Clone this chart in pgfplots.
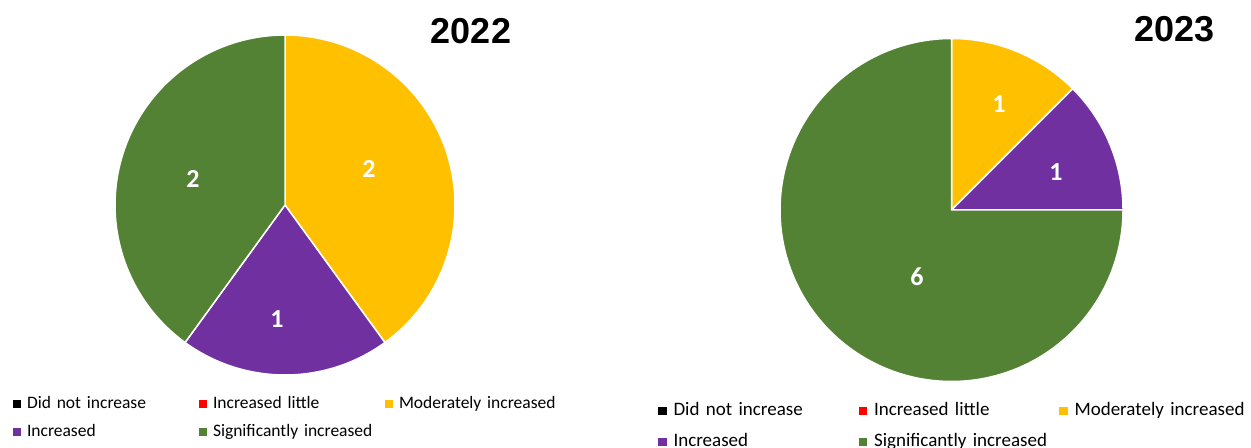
\documentclass[border=0pt]{standalone}
\usepackage{pgfplots}
\pgfplotsset{compat=1.18}
\usepackage{fontspec}
\setmainfont{Carlito}
\newfontfamily\arialfont{Liberation Sans}
\definecolor{cYel}{HTML}{FFC000}
\definecolor{cPur}{HTML}{7030A0}
\definecolor{cGrn}{HTML}{548235}
\definecolor{cRed}{HTML}{FF0000}

% ---- 2022 counts ----
\def\aDNI{0}\def\aIL{0}\def\aMI{2}\def\aINC{1}\def\aSI{2}
\pgfmathsetmacro\aTot{\aDNI+\aIL+\aMI+\aINC+\aSI}
\pgfmathsetmacro\aS{90-360*(\aDNI+\aIL)/\aTot}
\pgfmathsetmacro\aMIend{\aS-360*\aMI/\aTot}
\pgfmathsetmacro\aINCend{\aMIend-360*\aINC/\aTot}
\pgfmathsetmacro\aSIend{\aINCend-360*\aSI/\aTot}
% ---- 2023 counts ----
\def\bDNI{0}\def\bIL{0}\def\bMI{1}\def\bINC{1}\def\bSI{6}
\pgfmathsetmacro\bTot{\bDNI+\bIL+\bMI+\bINC+\bSI}
\pgfmathsetmacro\bS{90-360*(\bDNI+\bIL)/\bTot}
\pgfmathsetmacro\bMIend{\bS-360*\bMI/\bTot}
\pgfmathsetmacro\bINCend{\bMIend-360*\bINC/\bTot}
\pgfmathsetmacro\bSIend{\bINCend-360*\bSI/\bTot}

\pgfplotsset{
  pieframe/.style={
    at={(0,0)}, anchor=south west, scale only axis,
    width=1251bp, height=448bp,
    xmin=0, xmax=1251, ymin=0, ymax=448,
    hide axis, clip=false,
    legend columns=3,
    legend cell align=left,
  },
  slice/.style={fill=#1, draw=white, line width=1.5bp},
}

\begin{document}
\begin{tikzpicture}
% ================= 2022 =================
\begin{axis}[pieframe,
  legend image code/.code={\fill[#1,draw=none] (0bp,-4bp) rectangle (8bp,4bp);},
  legend style={draw=none, fill=none, inner sep=0pt, outer sep=0pt,
    at={(0.0104,0.116)}, anchor=north west,
    font=\fontsize{17.5bp}{21bp}\selectfont,
    row sep=12bp,
    nodes={text height=12bp, text depth=4bp, inner xsep=0pt, inner ysep=0pt, text width=172bp, align=left},
    /tikz/every odd column/.append style={column sep=6bp}},
]
\addlegendimage{fill=black}\addlegendentry{Did not increase}
\addlegendimage{fill=cRed}\addlegendentry{Increased little}
\addplot[slice=cYel, domain=\aMIend:\aS, samples=90, variable=\t]
  ({285+170*cos(\t)},{243+170*sin(\t)}) -- (axis cs:285,243) -- cycle;
\addlegendentry{Moderately increased}
\addplot[slice=cPur, domain=\aINCend:\aMIend, samples=60, variable=\t]
  ({285+170*cos(\t)},{243+170*sin(\t)}) -- (axis cs:285,243) -- cycle;
\addlegendentry{Increased}
\addplot[slice=cGrn, domain=\aSIend:\aINCend, samples=90, variable=\t]
  ({285+170*cos(\t)},{243+170*sin(\t)}) -- (axis cs:285,243) -- cycle;
\addlegendentry{Significantly increased}
\node[text=white, font=\bfseries\fontsize{26bp}{30bp}\selectfont] at (axis cs:369,279) {\aMI};
\node[text=white, font=\bfseries\fontsize{26bp}{30bp}\selectfont] at (axis cs:277,129) {\aINC};
\node[text=white, font=\bfseries\fontsize{26bp}{30bp}\selectfont] at (axis cs:193,269) {\aSI};
\node[font=\arialfont\bfseries\fontsize{36bp}{40bp}\selectfont] at (axis cs:471,417) {2022};
\end{axis}
% ================= 2023 =================
\begin{axis}[pieframe,
  legend image code/.code={\fill[#1,draw=none] (0bp,-4.25bp) rectangle (8.5bp,4.25bp);},
  legend style={draw=none, fill=none, inner sep=0pt, outer sep=0pt,
    at={(0.526,0.1016)}, anchor=north west,
    font=\fontsize{19bp}{23bp}\selectfont,
    row sep=13.5bp,
    nodes={text height=13bp, text depth=4.5bp, inner xsep=0pt, inner ysep=0pt, text width=185bp, align=left},
    /tikz/every odd column/.append style={column sep=7bp}},
]
\addlegendimage{fill=black}\addlegendentry{Did not increase}
\addlegendimage{fill=cRed}\addlegendentry{Increased little}
\addplot[slice=cYel, domain=\bMIend:\bS, samples=40, variable=\t]
  ({951.5+171.5*cos(\t)},{238+171.5*sin(\t)}) -- (axis cs:951.5,238) -- cycle;
\addlegendentry{Moderately increased}
\addplot[slice=cPur, domain=\bINCend:\bMIend, samples=40, variable=\t]
  ({951.5+171.5*cos(\t)},{238+171.5*sin(\t)}) -- (axis cs:951.5,238) -- cycle;
\addlegendentry{Increased}
\addplot[slice=cGrn, domain=\bSIend:\bINCend, samples=180, variable=\t]
  ({951.5+171.5*cos(\t)},{238+171.5*sin(\t)}) -- (axis cs:951.5,238) -- cycle;
\addlegendentry{Significantly increased}
\node[text=white, font=\bfseries\fontsize{26bp}{30bp}\selectfont] at (axis cs:999,344) {\bMI};
\node[text=white, font=\bfseries\fontsize{26bp}{30bp}\selectfont] at (axis cs:1056,276) {\bINC};
\node[text=white, font=\bfseries\fontsize{26bp}{30bp}\selectfont] at (axis cs:917,171) {\bSI};
\node[font=\arialfont\bfseries\fontsize{36bp}{40bp}\selectfont] at (axis cs:1174.5,419) {2023};
\end{axis}
\pgfresetboundingbox
\useasboundingbox (current axis.south west) rectangle (current axis.north east);
\end{tikzpicture}
\end{document}
